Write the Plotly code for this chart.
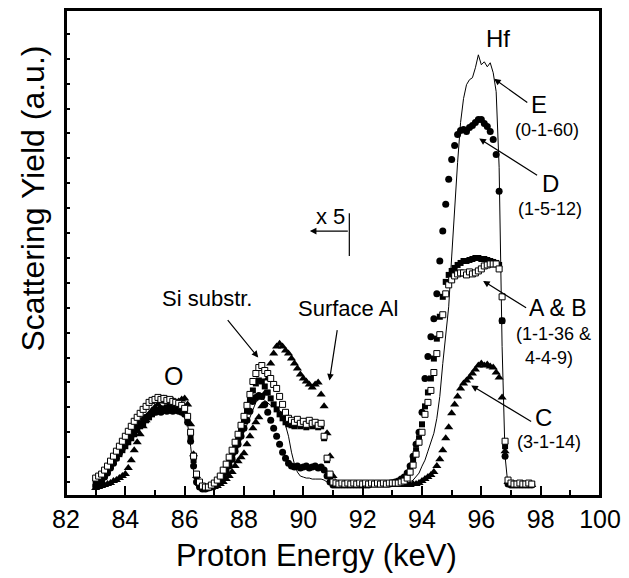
import numpy as np
import plotly.graph_objects as go

# Energy channels (keV), 0.1 keV steps from 83.0 to 97.7
energy_keV = np.round(np.arange(83.0, 97.75, 0.1), 1)

# Scattering yield (a.u.), one row per keV
yield_E = [  # E (0-1-60), thin line
    12, 14, 17, 20, 24, 28, 32, 37, 41, 46,
    50, 55, 59, 64, 68, 72, 75, 78, 80, 82,
    83, 84, 85, 85, 86, 86, 85, 86, 85, 84,
    82, 72, 50, 25, 12, 8, 7, 7, 8, 9,
    10, 12, 15, 19, 23, 28, 34, 41, 48, 56,
    64, 72, 80, 88, 94, 97, 98, 96, 93, 91,
    90, 88, 86, 82, 72, 60, 44, 32, 24, 20,
    19, 18, 18, 17, 17, 17, 17, 16, 14, 12,
    10, 10, 10, 10, 10, 10, 10, 10, 10, 10,
    10, 10, 10, 10, 10, 10, 10, 10, 10, 10,
    10, 10, 11, 11, 12, 13, 14, 16, 19, 23,
    30, 36, 45, 55, 63, 78, 100, 133, 165, 190,
    240, 290, 335, 375, 399, 413, 418, 420, 430, 443,
    433, 436, 431, 435, 425, 406, 330, 150, 40, 10,
    10, 10, 10, 10, 10, 10, 10, 10,
]
yield_D = [  # D (1-5-12), filled circles
    10, 12, 15, 19, 23, 28, 33, 38, 43, 48,
    53, 57, 61, 65, 69, 73, 76, 79, 81, 83,
    84, 85, 84, 86, 85, 86, 85, 86, 85, 84,
    82, 74, 55, 30, 14, 9, 7, 7, 8, 9,
    10, 12, 15, 19, 24, 30, 37, 45, 52, 60,
    68, 76, 85, 95, 99, 101, 100, 92, 84, 76,
    68, 60, 52, 44, 38, 33, 30, 29, 30, 28,
    29, 30, 28, 29, 30, 28, 29, 26, 20, 14,
    11, 11, 11, 11, 11, 11, 11, 11, 11, 11,
    11, 11, 11, 12, 12, 12, 12, 12, 12, 12,
    13, 14, 15, 17, 19, 23, 30, 40, 52, 64,
    84, 118, 140, 160, 178, 203, 236, 266, 293, 318,
    338, 352, 363, 367, 368, 366, 370, 372, 375, 378,
    378, 374, 371, 366, 358, 343, 306, 176, 40, 12,
    11, 11, 11, 11, 11, 11, 11, 11,
]
yield_A = [  # A (1-1-36), filled squares
    14, 16, 19, 22, 26, 30, 34, 38, 42, 46,
    50, 54, 58, 62, 66, 70, 73, 76, 79, 82,
    84, 86, 88, 87, 89, 90, 89, 88, 90, 88,
    86, 78, 60, 36, 20, 12, 9, 8, 8, 9,
    11, 13, 17, 22, 28, 34, 41, 49, 57, 66,
    75, 85, 96, 106, 113, 116, 115, 110, 104, 98,
    92, 87, 82, 78, 74, 72, 71, 70, 72, 70,
    71, 69, 72, 70, 71, 69, 70, 58, 36, 20,
    13, 12, 12, 12, 12, 12, 12, 12, 12, 12,
    12, 12, 12, 12, 12, 12, 12, 12, 12, 12,
    13, 13, 14, 15, 17, 21, 27, 35, 46, 58,
    72, 90, 104, 118, 138, 158, 180, 200, 215, 222,
    226, 229, 232, 234, 236, 236, 237, 238, 239, 239,
    238, 238, 237, 236, 235, 234, 232, 176, 50, 15,
    12, 12, 12, 12, 12, 12, 12, 12,
]
yield_B = [  # B (4-4-9), open squares
    18, 20, 22, 26, 30, 35, 40, 45, 50, 55,
    60, 65, 70, 75, 79, 83, 87, 90, 94, 96,
    97, 99, 97, 98, 96, 97, 95, 94, 93, 91,
    88, 80, 64, 40, 22, 14, 10, 9, 9, 11,
    13, 16, 20, 26, 32, 39, 46, 54, 62, 71,
    80, 91, 102, 115, 123, 129, 131, 126, 123, 118,
    112, 108, 100, 92, 84, 78, 76, 74, 77, 73,
    75, 72, 76, 73, 74, 71, 73, 60, 38, 22,
    14, 13, 12, 13, 12, 13, 12, 13, 12, 13,
    12, 13, 12, 13, 12, 13, 12, 13, 12, 13,
    13, 13, 13, 14, 15, 18, 24, 31, 42, 54,
    64, 82, 94, 106, 124, 143, 162, 182, 203, 212,
    217, 221, 223, 224, 224, 222, 225, 223, 224, 226,
    228, 231, 232, 233, 233, 233, 228, 200, 55, 16,
    13, 12, 12, 13, 12, 12, 13, 12,
]
yield_C = [  # C (3-1-14), filled triangles
    8, 9, 10, 11, 12, 13, 15, 16, 18, 20,
    22, 28, 36, 46, 54, 62, 70, 76, 82, 86,
    89, 92, 95, 98, 95, 94, 96, 93, 95, 97,
    98, 92, 72, 42, 20, 12, 9, 8, 8, 8,
    9, 10, 12, 14, 17, 20, 24, 30, 35, 39,
    43, 52, 60, 68, 74, 79, 90, 103, 118, 133,
    143, 150, 153, 150, 146, 143, 138, 133, 128, 122,
    118, 115, 112, 109, 112, 114, 102, 90, 63, 40,
    20, 12, 11, 11, 11, 11, 11, 11, 11, 11,
    11, 11, 11, 11, 11, 11, 11, 11, 11, 11,
    11, 11, 11, 11, 11, 11, 11, 12, 12, 13,
    15, 17, 19, 21, 24, 30, 37, 46, 58, 69,
    83, 92, 100, 108, 113, 116, 119, 123, 127, 131,
    133, 131, 132, 130, 129, 124, 119, 99, 45, 14,
    11, 11, 11, 11, 11, 11, 11, 11,
]

x_ticks = [82, 84, 86, 88, 90, 92, 94, 96, 98, 100]
y_ticks = [14 + 25 * k for k in range(19)]

FONT = "Arial, Liberation Sans, Helvetica, sans-serif"

fig = go.Figure()
fig.add_trace(go.Scatter(x=energy_keV, y=yield_E, mode="lines",
                         line=dict(color="black", width=1), name="E"))
fig.add_trace(go.Scatter(x=energy_keV, y=yield_C, mode="markers",
                         marker=dict(symbol="triangle-up", size=8, color="black"), name="C"))
fig.add_trace(go.Scatter(x=energy_keV, y=yield_D, mode="markers",
                         marker=dict(symbol="circle", size=7, color="black"), name="D"))
fig.add_trace(go.Scatter(x=energy_keV, y=yield_A, mode="markers",
                         marker=dict(symbol="square", size=6, color="black"), name="A"))
fig.add_trace(go.Scatter(x=energy_keV, y=yield_B, mode="markers",
                         marker=dict(symbol="square", size=6, color="white",
                                     line=dict(color="black", width=1)), name="B"))

ann = []
def txt(x, y, s, size):
    ann.append(dict(x=x, y=y, xref="x", yref="y", text=s, showarrow=False,
                    font=dict(family=FONT, size=size, color="black"),
                    xanchor="center", yanchor="middle"))

def arrow(x0, y0, x1, y1):
    ann.append(dict(x=x1, y=y1, ax=x0, ay=y0, xref="x", yref="y", axref="x", ayref="y",
                    text="", showarrow=True, arrowhead=2, arrowsize=1.1,
                    arrowwidth=1.2, arrowcolor="black"))

txt(96.56, 459, "Hf", 24)
txt(97.93, 393, "E", 24)
txt(98.23, 368, "(0-1-60)", 18)
txt(98.33, 314, "D", 24)
txt(98.33, 288, "(1-5-12)", 18)
txt(98.60, 189, "A &amp; B", 23)
txt(98.43, 163, "(1-1-36 &amp;", 18)
txt(98.27, 139, "4-4-9)", 18)
txt(98.10, 79, "C", 24)
txt(98.27, 54, "(3-1-14)", 18)
txt(85.64, 121, "O", 25)
txt(86.74, 198, "Si substr.", 22)
txt(91.49, 188, "Surface Al", 22)
txt(90.92, 281, "x 5", 22)

arrow(97.60, 394, 96.43, 419)
arrow(97.93, 321, 95.93, 359)
arrow(97.56, 188, 96.06, 216)
arrow(97.73, 74, 95.66, 111)
arrow(87.41, 178, 88.48, 139)
arrow(91.15, 168, 90.88, 116)
arrow(91.55, 266, 90.22, 266)

# axis titles
ann.append(dict(x=0.470, y=-0.122, xref="paper", yref="paper", text="Proton Energy (keV)",
                showarrow=False, font=dict(family=FONT, size=31, color="black"),
                xanchor="center", yanchor="middle"))
ann.append(dict(x=-0.061, y=0.613, xref="paper", yref="paper", text="Scattering Yield (a.u.)",
                showarrow=False, textangle=-90, font=dict(family=FONT, size=32, color="black"),
                xanchor="center", yanchor="middle"))

fig.add_shape(type="line", x0=91.55, x1=91.55, y0=241, y1=284, xref="x", yref="y",
              line=dict(color="black", width=1.2))
# plot frame
fig.add_shape(type="rect", x0=0, x1=1, y0=0, y1=1, xref="paper", yref="paper",
              line=dict(color="black", width=2), fillcolor="rgba(0,0,0,0)", layer="above")

fig.update_layout(
    width=629, height=578,
    margin=dict(l=66, r=25, t=8, b=82),
    paper_bgcolor="white", plot_bgcolor="white",
    showlegend=False,
    annotations=ann,
    font=dict(family=FONT, color="black"),
)
fig.update_xaxes(range=[82, 100], tickvals=x_ticks, ticks="inside", ticklen=10, tickwidth=1.5,
                 tickcolor="black", showgrid=False, zeroline=False,
                 showline=True, linecolor="black", linewidth=2, mirror=True,
                 tickfont=dict(family=FONT, size=25, color="black"),
                 minor=dict(dtick=1, tick0=82, ticks="inside", ticklen=6, tickwidth=1.5,
                            tickcolor="black"))
fig.update_yaxes(range=[0, 488], tickvals=y_ticks, ticks="inside", ticklen=4, tickwidth=1.5,
                 tickcolor="black", showticklabels=False, showgrid=False, zeroline=False,
                 showline=True, linecolor="black", linewidth=2, mirror=True)

fig.write_html("out.html", config={"displayModeBar": False},
               post_script="document.body.style.margin='0px';")
